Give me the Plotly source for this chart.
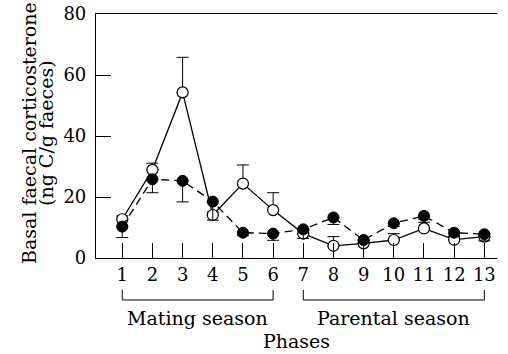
import plotly.graph_objects as go

phases = list(range(1, 14))
open_vals = [12.7, 28.9, 54.3, 14.1, 24.4, 15.7, 8.0, 4.0, 4.8, 5.9, 9.7, 6.0, 7.0]
open_err = [1.1, 2.2, 11.5, 1.0, 6.1, 5.7, 1.0, 3.0, 1.0, 2.1, 2.0, 1.0, 1.0]
filled_vals = [10.3, 25.8, 25.3, 18.5, 8.3, 8.0, 9.4, 13.3, 5.9, 11.4, 13.8, 8.3, 7.8]
filled_err = [3.6, 4.4, 6.9, 6.1, 1.0, 2.2, 3.0, 2.3, 1.0, 1.0, 1.0, 1.0, 2.2]
ytick_vals = [0, 20, 40, 60, 80]
seasons = [("Mating season", 1, 6), ("Parental season", 7, 13)]
ytitle_lines = ["Basal faecal corticosterone", "(ng C/g faeces)"]
xtitle = "Phases"

FONT = "DejaVu Serif"
WORD = 19
DIGIT = 18
fig = go.Figure()

fig.add_trace(go.Scatter(
    x=phases, y=open_vals, mode="lines+markers",
    line=dict(color="black", width=1.3),
    marker=dict(symbol="circle", size=11, color="white", line=dict(color="black", width=1.2)),
    error_y=dict(type="data", symmetric=False, array=open_err, arrayminus=[0]*13,
                 color="black", thickness=1, width=6),
    showlegend=False,
))
fig.add_trace(go.Scatter(
    x=phases, y=filled_vals, mode="lines+markers",
    line=dict(color="black", width=1.3, dash="8px,5px"),
    marker=dict(symbol="circle", size=11, color="black", line=dict(color="black", width=1)),
    error_y=dict(type="data", symmetric=False, array=[0]*13, arrayminus=filled_err,
                 color="black", thickness=1, width=6),
    showlegend=False,
))

shapes = []
annotations = []
for name, a, b in seasons:
    yb = -0.172
    ytop = -0.131
    shapes.append(dict(type="line", xref="x", yref="paper", x0=a, x1=b, y0=yb, y1=yb,
                       line=dict(color="black", width=1)))
    for xx in (a, b):
        shapes.append(dict(type="line", xref="x", yref="paper", x0=xx, x1=xx, y0=yb, y1=ytop,
                           line=dict(color="black", width=1)))
    annotations.append(dict(text=name, xref="x", yref="paper", x=(a + b) / 2, y=-0.246,
                            showarrow=False, font=dict(family=FONT, size=WORD, color="black"),
                            xanchor="center", yanchor="middle"))

annotations.append(dict(text=xtitle, xref="paper", yref="paper", x=0.5, y=-0.340,
                        showarrow=False, font=dict(family=FONT, size=WORD, color="black"),
                        xanchor="center", yanchor="middle"))

for i, line in enumerate(ytitle_lines):
    annotations.append(dict(text=line, xref="paper", yref="paper", x=0, y=0.5,
                            xshift=-67 + 17 * i, yshift=3, textangle=-90,
                            showarrow=False, font=dict(family=FONT, size=WORD, color="black"),
                            xanchor="center", yanchor="middle"))

fig.update_layout(
    width=508, height=354,
    margin=dict(l=96, r=11, t=14, b=96),
    paper_bgcolor="white", plot_bgcolor="white",
    font=dict(family=FONT, size=DIGIT, color="black"),
    shapes=shapes, annotations=annotations,
    xaxis=dict(range=[0.13, 13.42], tickmode="array", tickvals=phases,
               ticktext=[str(p) for p in phases], automargin=False,
               ticks="inside", ticklen=15, tickcolor="black", tickwidth=1,
               showline=True, linecolor="black", linewidth=1.2, mirror=True,
               showgrid=False, zeroline=False,
               tickfont=dict(family=FONT, size=DIGIT, color="black")),
    yaxis=dict(range=[0, 80], tickmode="array", tickvals=ytick_vals, automargin=False,
               ticks="inside", ticklen=15, tickcolor="black", tickwidth=1,
               ticklabelstandoff=5,
               showline=True, linecolor="black", linewidth=1.2,
               showgrid=False, zeroline=False,
               tickfont=dict(family=FONT, size=DIGIT, color="black")),
)

fig.write_html("out.html", config={"displayModeBar": False},
               post_script="document.body.style.margin='0';")
